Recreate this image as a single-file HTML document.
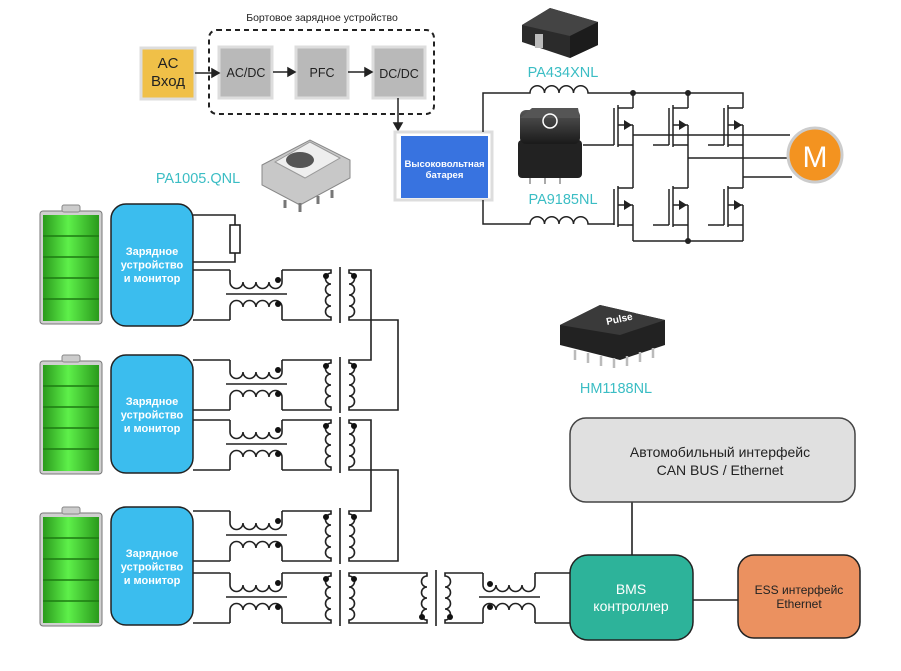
<!DOCTYPE html>
<html><head><meta charset="utf-8"><style>
html,body{margin:0;padding:0;background:#fff;}
svg{display:block;font-family:"Liberation Sans",sans-serif;}
</style></head><body>
<svg width="901" height="671" viewBox="0 0 901 671" xmlns="http://www.w3.org/2000/svg">
<defs>
<linearGradient id="bat" x1="0" x2="1" y1="0" y2="0">
<stop offset="0" stop-color="#2a9a1c"/><stop offset="0.45" stop-color="#5ef04a"/><stop offset="1" stop-color="#2a9a1c"/></linearGradient>
<linearGradient id="blk" x1="0" x2="0" y1="0" y2="1"><stop offset="0" stop-color="#555"/><stop offset="1" stop-color="#1a1a1a"/></linearGradient>
<g id="choke" fill="none" stroke="#222" stroke-width="1.6">
<path d="M0,0 V12 a6.5,6.5 0 0 0 13,0 a6.5,6.5 0 0 0 13,0 a6.5,6.5 0 0 0 13,0 a6.5,6.5 0 0 0 13,0 V0"/>
<path d="M52,50 V37 a6.5,6.5 0 0 0 -13,0 a6.5,6.5 0 0 0 -13,0 a6.5,6.5 0 0 0 -13,0 a6.5,6.5 0 0 0 -13,0 V50"/>
<path d="M-4,24 H57"/>
</g>
<g id="xf" fill="none" stroke="#222" stroke-width="1.6">
<path d="M0,0 H8 V3 a5.5,5.5 0 0 0 0,11 a5.5,5.5 0 0 0 0,11 a5.5,5.5 0 0 0 0,11 a5.5,5.5 0 0 0 0,11 V50 H0"/>
<path d="M38,0 H26 V3 a5.5,5.5 0 0 1 0,11 a5.5,5.5 0 0 1 0,11 a5.5,5.5 0 0 1 0,11 a5.5,5.5 0 0 1 0,11 V50 H38"/>
<path d="M17,-3 V53"/>
</g>
<g id="bt">
<rect x="0" y="6" width="62" height="113" rx="3" fill="#d0d0d0" stroke="#777" stroke-width="1"/>
<rect x="22" y="0" width="18" height="7" rx="2" fill="#ccc" stroke="#888"/>
<rect x="3" y="10" width="56" height="106" fill="url(#bat)"/>
<g stroke="#1d7a12" stroke-width="1.5"><path d="M3,31 H59 M3,52 H59 M3,73 H59 M3,94 H59"/></g>
</g>
</defs>

<text x="322" y="21" font-size="10.5" text-anchor="middle" fill="#222">Бортовое зарядное устройство</text>
<rect x="209" y="30" width="225" height="84" rx="8" fill="none" stroke="#222" stroke-width="2" stroke-dasharray="5,4"/>
<rect x="141" y="48" width="54" height="51" fill="#f0c048" stroke="#ddd" stroke-width="3"/>
<text x="168" y="68" font-size="15" text-anchor="middle" fill="#222">AC</text>
<text x="168" y="86" font-size="15" text-anchor="middle" fill="#222">Вход</text>
<rect x="219" y="47" width="53" height="51" fill="#b9b9b9" stroke="#ddd" stroke-width="3"/>
<text x="246" y="77" font-size="12.5" text-anchor="middle" fill="#222">AC/DC</text>
<rect x="296" y="47" width="52" height="51" fill="#b9b9b9" stroke="#ddd" stroke-width="3"/>
<text x="322" y="77" font-size="12.5" text-anchor="middle" fill="#222">PFC</text>
<rect x="373" y="47" width="52" height="51" fill="#b9b9b9" stroke="#ddd" stroke-width="3"/>
<text x="399" y="78" font-size="12.5" text-anchor="middle" fill="#222">DC/DC</text>
<g stroke="#222" stroke-width="1.5" fill="#222">
<path d="M195,73 H212"/><path d="M212,69 L219,73 L212,77Z"/>
<path d="M273,72 H288"/><path d="M288,68 L295,72 L288,76Z"/>
<path d="M348,72 H365"/><path d="M365,68 L372,72 L365,76Z"/>
<path d="M398,98 V123"/><path d="M394,123 L398,130 L402,123Z"/>
</g>
<rect x="395" y="132" width="97" height="68" fill="#fff" stroke="#ddd" stroke-width="3"/>
<rect x="401" y="136" width="87" height="62" fill="#3873e0"/>
<text x="444.5" y="167" font-size="9.5" font-weight="bold" text-anchor="middle" fill="#fff">Высоковольтная</text>
<text x="444.5" y="178" font-size="9.5" font-weight="bold" text-anchor="middle" fill="#fff">батарея</text>

<g>
<path d="M522,25 L550,8 L598,22 L598,45 L570,58 L522,42Z" fill="#2b2b2b"/>
<path d="M522,25 L550,8 L598,22 L570,36Z" fill="#444"/>
<path d="M570,36 L598,22 L598,45 L570,58Z" fill="#1c1c1c"/>
<rect x="535" y="34" width="8" height="14" fill="#bbb"/>
<text x="563" y="77" font-size="14.5" text-anchor="middle" fill="#3bbdc4">PA434XNL</text>
</g>
<g>
<rect x="518" y="140" width="64" height="38" rx="4" fill="#222"/>
<rect x="520" y="110" width="60" height="34" rx="6" fill="url(#blk)"/>
<path d="M520,118 L532,108 L578,108 L580,118Z" fill="#555"/>
<circle cx="550" cy="121" r="7" fill="none" stroke="#fff" stroke-width="1.5"/>
<g stroke="#aaa" stroke-width="2"><path d="M530,178 V184 M545,178 V184 M560,178 V184"/></g>
<text x="563" y="204" font-size="14.5" text-anchor="middle" fill="#3bbdc4">PA9185NL</text>
</g>
<g>
<path d="M262,165 L310,140 L350,160 L350,178 L300,205 L262,185Z" fill="#c8c8c8" stroke="#888"/>
<path d="M275,162 L310,142 L340,158 L305,178Z" fill="#eee" stroke="#999"/>
<ellipse cx="300" cy="160" rx="14" ry="8" fill="#555"/>
<g stroke="#777" stroke-width="3"><path d="M285,200 V208 M300,203 V212 M318,196 V204 M332,190 V198"/></g>
<text x="198" y="183" font-size="14.5" text-anchor="middle" fill="#3bbdc4">PA1005.QNL</text>
</g>
<g>
<path d="M560,325 L600,305 L665,320 L665,345 L620,360 L560,345Z" fill="#222"/>
<path d="M560,325 L600,305 L665,320 L620,335Z" fill="#3a3a3a"/>
<text x="607" y="325" font-size="10" font-weight="bold" fill="#fff" transform="rotate(-12 607 325)">Pulse</text>
<g stroke="#bbb" stroke-width="2.5"><path d="M575,350 V360 M588,353 V363 M601,356 V366 M614,358 V368 M627,356 V366 M640,352 V362 M653,348 V358"/></g>
<text x="616" y="393" font-size="14.5" text-anchor="middle" fill="#3bbdc4">HM1188NL</text>
</g>

<g fill="none" stroke="#222" stroke-width="1.5">
<path d="M483,132 V93 H530 a7.25,7.25 0 0 1 14.5,0 a7.25,7.25 0 0 1 14.5,0 a7.25,7.25 0 0 1 14.5,0 a7.25,7.25 0 0 1 14.5,0 H743 V108"/>
<path d="M633,93 V108 M688,93 V108"/>
<path d="M483,200 V224 H530 a7.25,7.25 0 0 1 14.5,0 a7.25,7.25 0 0 1 14.5,0 a7.25,7.25 0 0 1 14.5,0 a7.25,7.25 0 0 1 14.5,0 H614"/>
<path d="M583,145 H614"/>
<path d="M633,241 H743"/>
<path d="M633,135 H790 M688,158 H788 M743,177 H792"/>
</g>
<g fill="#222"><circle cx="633" cy="93" r="3"/><circle cx="688" cy="93" r="3"/><circle cx="688" cy="241" r="3"/></g>
<g id="col" fill="none" stroke="#222" stroke-width="1.5">
<path d="M614,108 V145 M618,105 V147 M618,108 H633 M618,125 H633 M618,145 H633 M633,125 V188"/>
<path d="M614,189 V225 M618,186 V227 M618,188 H633 M618,205 H633 M618,225 H633 M633,205 V241"/>
</g>
<g fill="#222"><path d="M624,120 L632,125 L624,130Z M624,200 L632,205 L624,210Z"/></g>
<use href="#col" x="55"/><g fill="#222" transform="translate(55,0)"><path d="M624,120 L632,125 L624,130Z M624,200 L632,205 L624,210Z"/></g>
<use href="#col" x="110"/><g fill="#222" transform="translate(110,0)"><path d="M624,120 L632,125 L624,130Z M624,200 L632,205 L624,210Z"/></g>
<path d="M653,145 H669 M708,145 H724 M653,225 H669 M708,225 H724" stroke="#222" stroke-width="1.5"/>
<circle cx="815" cy="155" r="27" fill="#f39320" stroke="#ccc" stroke-width="3"/>
<text x="815" y="167" font-size="30" text-anchor="middle" fill="#fff">M</text>

<use href="#bt" x="40" y="205"/>
<use href="#bt" x="40" y="355"/>
<use href="#bt" x="40" y="507"/>
<g fill="#3bbdee" stroke="#222" stroke-width="1.5">
<rect x="111" y="204" width="82" height="122" rx="15"/>
<rect x="111" y="355" width="82" height="118" rx="15"/>
<rect x="111" y="507" width="82" height="118" rx="15"/>
</g>
<g font-size="11" font-weight="bold" fill="#fff" text-anchor="middle">
<text x="152" y="255">Зарядное</text><text x="152" y="268.5">устройство</text><text x="152" y="282">и монитор</text>
<text x="152" y="405">Зарядное</text><text x="152" y="418.5">устройство</text><text x="152" y="432">и монитор</text>
<text x="152" y="557">Зарядное</text><text x="152" y="570.5">устройство</text><text x="152" y="584">и монитор</text>
</g>

<g fill="none" stroke="#222" stroke-width="1.6">
<path d="M193,215 H235 V225 M235,253 V262 H193"/>
<rect x="230" y="225" width="10" height="28" fill="#fff"/>
</g>

<g fill="none" stroke="#222" stroke-width="1.6">
<path d="M193,270 H230 M193,320 H230 M282,270 H323 M282,320 H323"/>
<path d="M193,360 H230 M193,410 H230 M282,360 H323 M282,410 H323"/>
<path d="M193,420 H230 M193,470 H230 M282,420 H323 M282,470 H323"/>
<path d="M193,511 H230 M193,561 H230 M282,511 H323 M282,561 H323"/>
<path d="M193,573 H230 M193,623 H230 M282,573 H323 M282,623 H323"/>
<path d="M361,270 H371 V360 H361 M361,320 H398 V410 H361"/>
<path d="M361,420 H371 V511 H361 M361,470 H398 V561 H361"/>
<path d="M361,573 H419 M361,623 H419"/>
<path d="M457,573 H483 M457,623 H483 M535,573 H570 M535,623 H570"/>
<path d="M632,502 V555 M693,600 H738"/>
</g>
<use href="#choke" x="230" y="270"/><use href="#xf" x="323" y="270"/>
<use href="#choke" x="230" y="360"/><use href="#xf" x="323" y="360"/>
<use href="#choke" x="230" y="420"/><use href="#xf" x="323" y="420"/>
<use href="#choke" x="230" y="511"/><use href="#xf" x="323" y="511"/>
<use href="#choke" x="230" y="573"/><use href="#xf" x="323" y="573"/>
<use href="#xf" x="419" y="573"/>
<use href="#choke" x="483" y="573"/>
<g fill="#111">
<circle cx="278" cy="280" r="3"/><circle cx="278" cy="304" r="3"/><circle cx="326" cy="276" r="3"/><circle cx="354" cy="276" r="3"/>
<circle cx="278" cy="370" r="3"/><circle cx="278" cy="394" r="3"/><circle cx="326" cy="366" r="3"/><circle cx="354" cy="366" r="3"/>
<circle cx="278" cy="430" r="3"/><circle cx="278" cy="454" r="3"/><circle cx="326" cy="426" r="3"/><circle cx="354" cy="426" r="3"/>
<circle cx="278" cy="521" r="3"/><circle cx="278" cy="545" r="3"/><circle cx="326" cy="517" r="3"/><circle cx="354" cy="517" r="3"/>
<circle cx="278" cy="583" r="3"/><circle cx="278" cy="607" r="3"/><circle cx="326" cy="579" r="3"/><circle cx="354" cy="579" r="3"/>
<circle cx="422" cy="617" r="3"/><circle cx="450" cy="617" r="3"/>
<circle cx="490" cy="584" r="3"/><circle cx="490" cy="607" r="3"/>
</g>

<rect x="570" y="418" width="285" height="84" rx="16" fill="#e0e0e0" stroke="#444" stroke-width="1.5"/>
<text x="720" y="457" font-size="14" text-anchor="middle" fill="#222">Автомобильный интерфейс</text>
<text x="720" y="475" font-size="14" text-anchor="middle" fill="#222">CAN BUS / Ethernet</text>
<rect x="570" y="555" width="123" height="85" rx="18" fill="#2db39a" stroke="#222" stroke-width="1.5"/>
<text x="631" y="594" font-size="14" text-anchor="middle" fill="#fff">BMS</text>
<text x="631" y="611" font-size="14" text-anchor="middle" fill="#fff">контроллер</text>
<rect x="738" y="555" width="122" height="83" rx="16" fill="#eb9160" stroke="#222" stroke-width="1.5"/>
<text x="799" y="594" font-size="12" text-anchor="middle" fill="#222">ESS интерфейс</text>
<text x="799" y="608" font-size="12" text-anchor="middle" fill="#222">Ethernet</text>
</svg>
</body></html>
